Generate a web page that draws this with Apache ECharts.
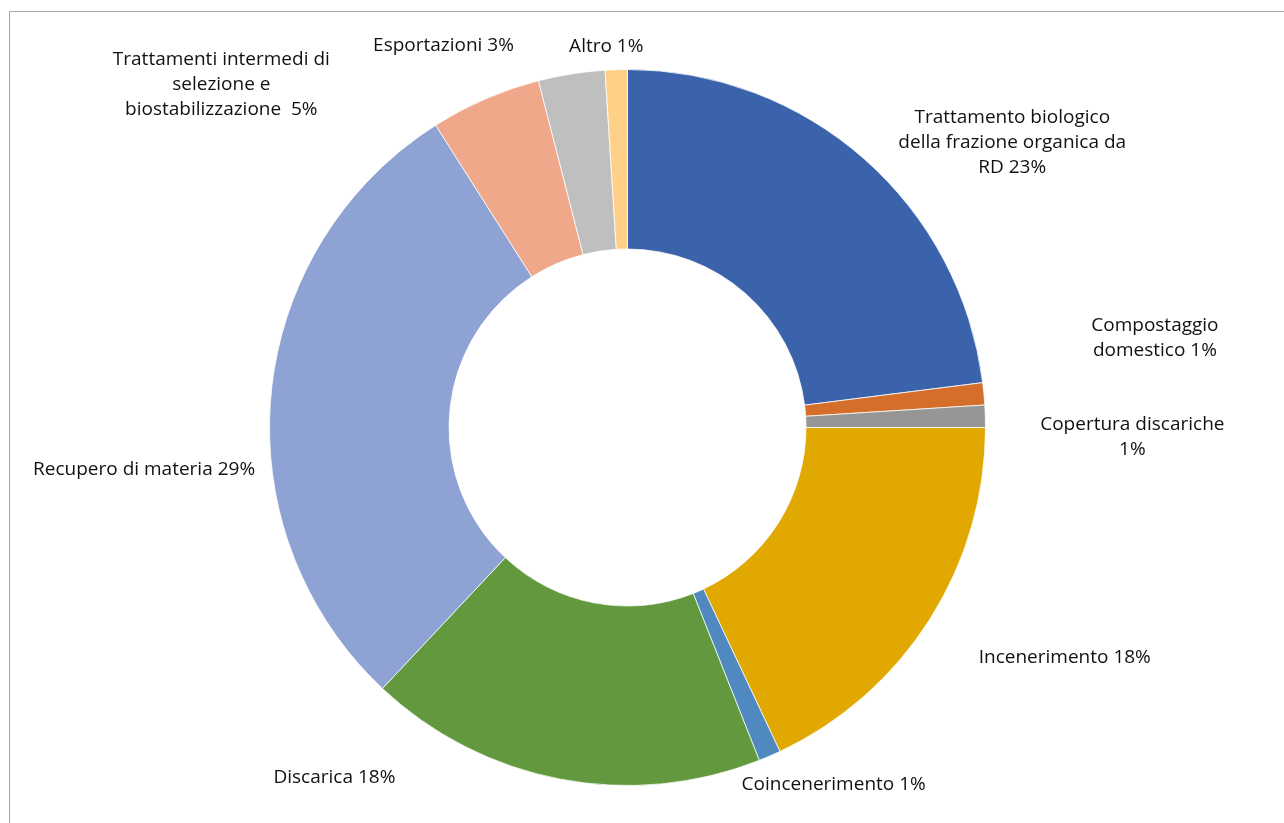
<!DOCTYPE html>
<html lang="it">
<head>
<meta charset="utf-8">
<title>Destinazione dei rifiuti</title>
<script src="https://cdn.jsdelivr.net/npm/echarts@6/dist/echarts.min.js"></script>
<style>
  html, body { margin: 0; padding: 0; background: #ffffff; overflow: hidden; }
  #chart { position: absolute; left: 0; top: 0; width: 1284px; height: 823px; }
  #frame {
    position: absolute; left: 9px; top: 11px; width: 1400px; height: 900px;
    border-left: 1px solid #a6a6a6; border-top: 1px solid #a6a6a6;
    pointer-events: none;
  }
</style>
</head>
<body>
<div id="frame"></div>
<div id="chart"></div>
<script>
// Categories (line breaks as they wrap in the labels), clockwise from 12 o'clock
const categories = [
  'Trattamento biologico\ndella frazione organica da\nRD',
  'Compostaggio\ndomestico',
  'Copertura discariche\n',
  'Incenerimento',
  'Coincenerimento',
  'Discarica',
  'Recupero di materia',
  'Trattamenti intermedi di\nselezione e\nbiostabilizzazione ',
  'Esportazioni',
  'Altro'
];
// Share of each destination, percent
const shares = [23, 1, 1, 18, 1, 18, 29, 5, 3, 1];
const sliceColors = [
  '#3b63ac', '#d56e2a', '#969696', '#e0a800', '#4f89bf',
  '#62993e', '#8ea3d3', '#f0a88a', '#bfbfbf', '#ffd087'
];
// Label centre offsets from the outer rim at each slice's mid-angle, px
const labelOffsets = [
  [148, -16], [171, -56], [147, 21], [135, 38], [64, 29],
  [-226, -2], [-127, 76], [-264, -14], [-128, -28], [-10, -23]
];

const CX = 627.5, CY = 427.5, R_IN = 178.5, R_OUT = 358;

// mid-angle of every slice, measured clockwise from the top
const total = shares.reduce((a, b) => a + b, 0);
const midAngles = [];
let acc = 0;
shares.forEach(v => {
  midAngles.push((acc + v / 2) / total * 2 * Math.PI);
  acc += v;
});

const chart = echarts.init(document.getElementById('chart'), null, { renderer: 'canvas' });

chart.setOption({
  animation: false,
  backgroundColor: 'transparent',
  series: [{
    type: 'pie',
    center: [CX, CY],
    radius: [R_IN, R_OUT],
    startAngle: 90,
    clockwise: true,
    avoidLabelOverlap: false,
    itemStyle: { borderColor: '#ffffff', borderWidth: 0.75 },
    emphasis: { disabled: true },
    label: {
      show: true,
      position: 'outside',
      color: '#111111',
      fontFamily: '"Open Sans", "Noto Sans", sans-serif',
      fontSize: 19,
      lineHeight: 25,
      formatter: p => p.name + (p.name.endsWith('\n') ? '' : ' ') + p.value + '%'
    },
    labelLine: { show: false },
    labelLayout: params => {
      const i = params.dataIndex;
      const a = midAngles[i];
      return {
        x: CX + R_OUT * Math.sin(a) + labelOffsets[i][0],
        y: CY - R_OUT * Math.cos(a) + labelOffsets[i][1],
        align: 'center',
        verticalAlign: 'middle'
      };
    },
    data: categories.map((name, i) => ({
      name: name,
      value: shares[i],
      itemStyle: { color: sliceColors[i] }
    }))
  }]
});
</script>
</body>
</html>
